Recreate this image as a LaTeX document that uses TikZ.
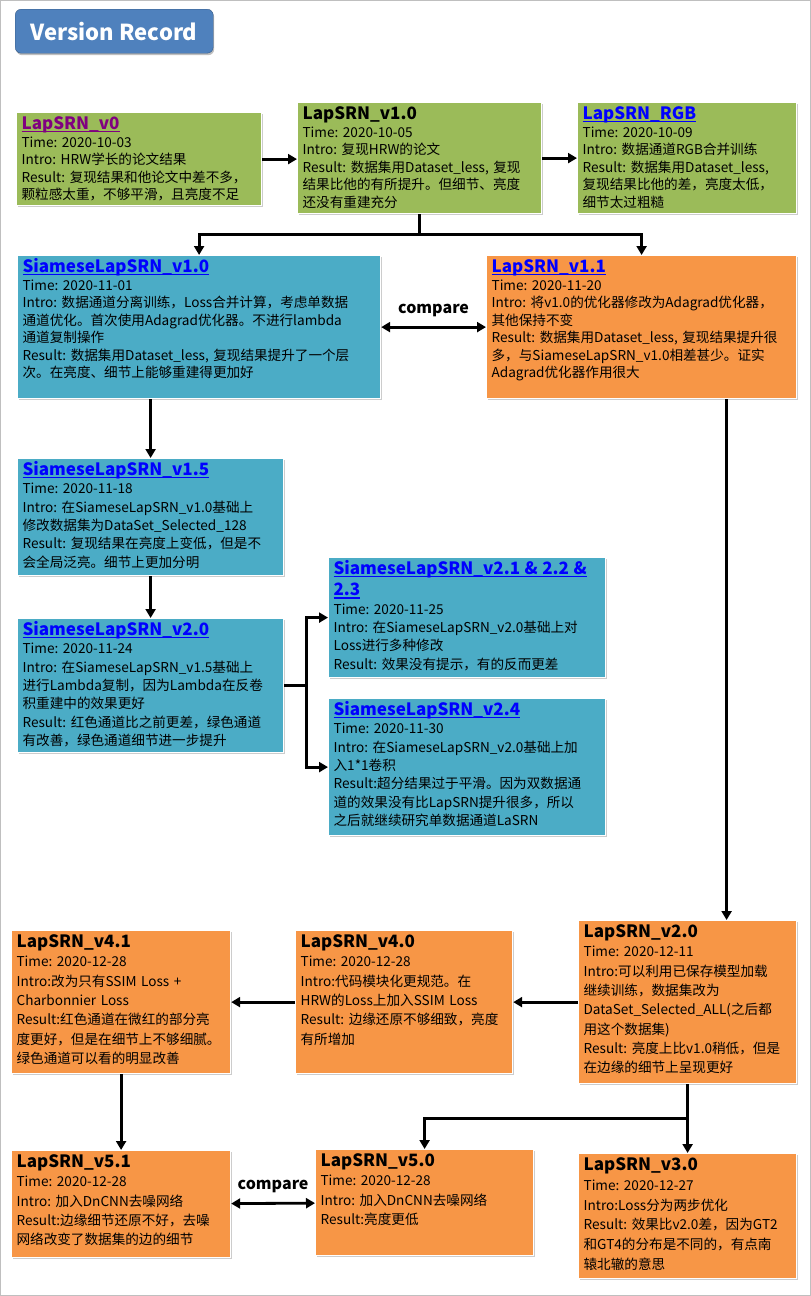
\documentclass[tikz,border=0pt]{standalone}
\usepackage{fontspec}
\setmainfont{Noto Sans CJK SC}
\usetikzlibrary{positioning,arrows.meta,shadows}
\definecolor{leaf}{HTML}{9BBB59}
\definecolor{sea}{HTML}{4BACC6}
\definecolor{tang}{HTML}{F79646}
\definecolor{banner}{HTML}{4F81BD}
\definecolor{link}{HTML}{0000FF}
\definecolor{visited}{HTML}{800080}
\frenchspacing
\newcommand{\hd}[1]{{\fontsize{17}{17}\selectfont\bfseries #1}}
\newcommand{\lnk}[2][link]{\leavevmode\textcolor{#1}{\setbox0\hbox{\hd{#2}}%
  \rlap{\rule[-2.7pt]{\wd0}{1.6pt}}\box0}}

\begin{document}
\begin{tikzpicture}[
  x=1pt, y=-1pt,
  font=\fontsize{13.6}{17.5}\selectfont,
  card/.style args={#1x#2}{draw=white, line width=1.2pt, anchor=north west,
     align=left, inner xsep=5pt, inner ysep=4pt,
     drop shadow={shadow xshift=1pt, shadow yshift=-1.5pt, fill=black, opacity=0.2},
     /utils/exec={\pgfmathsetmacro\cardw{#1-10}\pgfmathsetmacro\cardd{#2-21}},
     text width=\cardw pt, text height=13pt, text depth=\cardd pt},
  gbox/.style={card=#1, fill=leaf},
  tbox/.style={card=#1, fill=sea},
  obox/.style={card=#1, fill=tang},
  pitch/.style={font=\fontsize{13.6}{#1}\selectfont},
  badge/.style={anchor=north west, draw=banner!70!black, fill=banner,
     rounded corners=6pt, minimum width=198pt, minimum height=44pt, text=white,
     font=\fontsize{22}{22}\selectfont\bfseries,
     drop shadow={shadow xshift=1pt, shadow yshift=-2pt, fill=black, opacity=0.25}},
  arr/.style={-{Triangle[length=9pt, width=10pt]}, line width=2.8pt},
  twoway/.style={{Triangle[length=9pt, width=10pt]}-{Triangle[length=9pt, width=10pt]},
     line width=2.8pt},
  lbl/.style={font=\fontsize{16}{16}\selectfont\bfseries, midway, above=6pt}
]
\useasboundingbox (0,0) rectangle (811,1296);
\draw[black!25, line width=1pt] (0.5,0.5) rectangle (810.5,1295.5);
\node[badge] (title) at (15,9) {Version Record};
% ---- first row ----
\node[gbox=245x93, pitch=17.5] (v0) at (16,112) {\lnk[visited]{LapSRN\_v0}\\
  Time: 2020-10-03\\ Intro: HRW学长的论文结果\\ Result: 复现结果和他论文中差不多，\\
  颗粒感太重，不够平滑，且亮度不足};
\node[gbox=244x111, pitch=17.5] (v10) at (297,102) {\hd{LapSRN\_v1.0}\\
  Time: 2020-10-05\\ Intro: 复现HRW的论文\\ Result: 数据集用Dataset\_less, 复现\\
  结果比他的有所提升。但细节、亮度\\ 还没有重建充分};
\node[gbox=219x111, pitch=17.5] (rgb) at (577,102) {\lnk{LapSRN\_RGB}\\
  Time: 2020-10-09\\ Intro: 数据通道RGB合并训练\\ Result: 数据集用Dataset\_less,\\
  复现结果比他的差，亮度太低，\\ 细节太过粗糙};
% ---- siamese branch ----
\node[tbox=363x143, pitch=17.5] (sv10) at (17,255) {\lnk{SiameseLapSRN\_v1.0}\\
  Time: 2020-11-01\\ Intro: 数据通道分离训练，Loss合并计算，考虑单数据\\
  通道优化。首次使用Adagrad优化器。不进行lambda\\ 通道复制操作\\
  Result: 数据集用Dataset\_less, 复现结果提升了一个层\\ 次。在亮度、细节上能够重建得更加好};
\node[obox=310x143, pitch=17.5] (v11) at (486,255) {\lnk{LapSRN\_v1.1}\\
  Time: 2020-11-20\\ Intro: 将v1.0的优化器修改为Adagrad优化器，\\ 其他保持不变\\
  Result: 数据集用Dataset\_less, 复现结果提升很\\ 多，与SiameseLapSRN\_v1.0相差甚少。证实\\
  Adagrad优化器作用很大};
\node[tbox=266x117, pitch=18.3] (sv15) at (17,458) {\lnk{SiameseLapSRN\_v1.5}\\
  Time: 2020-11-18\\ Intro: 在SiameseLapSRN\_v1.0基础上\\ 修改数据集为DataSet\_Selected\_128\\
  Result: 复现结果在亮度上变低，但是不\\ 会全局泛亮。细节上更加分明};
\node[tbox=266x134, pitch=18.3] (sv20) at (17,618) {\lnk{SiameseLapSRN\_v2.0}\\
  Time: 2020-11-24\\ Intro: 在SiameseLapSRN\_v1.5基础上\\ 进行Lambda复制，因为Lambda在反卷\\
  积重建中的效果更好\\ Result: 红色通道比之前更差，绿色通道\\ 有改善，绿色通道细节进一步提升};
\node[tbox=277x120, pitch=18.3] (sv21) at (328,557) {\lnk{SiameseLapSRN\_v2.1 \& 2.2 \&}\\[3pt]
  \lnk{2.3}\\ Time: 2020-11-25\\ Intro: 在SiameseLapSRN\_v2.0基础上对\\ Loss进行多种修改\\
  Result: 效果没有提示，有的反而更差};
\node[tbox=277x137, pitch=18.3] (sv24) at (328,698) {\lnk{SiameseLapSRN\_v2.4}\\
  Time: 2020-11-30\\ Intro: 在SiameseLapSRN\_v2.0基础上加\\ 入1*1卷积\\
  Result:超分结果过于平滑。因为双数据通\\ 道的效果没有比LapSRN提升很多，所以\\
  之后就继续研究单数据通道LaSRN};
% ---- lapsrn line ----
\node[obox=218x163, pitch=19.3] (v20) at (578,920) {\hd{LapSRN\_v2.0}\\
  Time: 2020-12-11\\ Intro:可以利用已保存模型加载\\ 继续训练，数据集改为\\
  DataSet\_Selected\_ALL(之后都\\ 用这个数据集)\\ Result: 亮度上比v1.0稍低，但是\\
  在边缘的细节上呈现更好};
\node[obox=217x143, pitch=19.3] (v40) at (295,930) {\hd{LapSRN\_v4.0}\\
  Time: 2020-12-28\\ Intro:代码模块化更规范。在\\ HRW的Loss上加入SSIM Loss\\
  Result: 边缘还原不够细致，亮度\\ 有所增加};
\node[obox=219x143, pitch=19.3] (v41) at (11,930) {\hd{LapSRN\_v4.1}\\
  Time: 2020-12-28\\ Intro:改为只有SSIM Loss +\\ Charbonnier Loss\\
  Result:红色通道在微红的部分亮\\ 度更好，但是在细节上不够细腻。\\ 绿色通道可以看的明显改善};
\node[obox=219x107, pitch=19.3] (v51) at (11,1150) {\hd{LapSRN\_v5.1}\\
  Time: 2020-12-28\\ Intro: 加入DnCNN去噪网络\\ Result:边缘细节还原不好，去噪\\
  网络改变了数据集的边的细节};
\node[obox=218x106, pitch=19.3] (v50) at (315,1149) {\hd{LapSRN\_v5.0}\\
  Time: 2020-12-28\\ Intro: 加入DnCNN去噪网络\\ Result:亮度更低};
\node[obox=218x125, pitch=19.7] (v30) at (578,1153) {\hd{LapSRN\_v3.0}\\
  Time: 2020-12-27\\ Intro:Loss分为两步优化\\ Result: 效果比v2.0差，因为GT2\\
  和GT4的分布是不同的，有点南\\ 辕北辙的意思};
% ---- connectors ----
\coordinate[below=20pt of v10] (fork1);
\coordinate[right=22pt of sv20] (fork2);
\coordinate[below=34pt of v20] (fork3);
\coordinate[right=39pt of v20.north] (drop);
\draw[arr] (v0.east) -- (v0.east -| v10.west);
\draw[arr] (v10) -- (rgb);
\draw[arr] (v10.south) -- (fork1) -| (sv10.north);
\draw[arr] (fork1) -| (v11.north);
\draw[twoway] (sv10) -- node[lbl] (cmp1) {compare} (v11);
\draw[arr] (sv15.north |- sv10.south) -- (sv15);
\draw[arr] (sv15) -- (sv20);
\draw[arr] (sv20) -- (fork2) |- (sv21);
\draw[arr] (fork2) |- (sv24);
\draw[arr] (v11.south -| drop) -- (drop);
\draw[arr] (v20) -- (v40);
\draw[arr] (v40) -- (v41);
\draw[arr] (v41) -- (v51);
\draw[twoway] (v51) -- node[lbl] (cmp2) {compare} (v50);
\draw[arr] (v20) -- (fork3) -| (v50);
\draw[arr] (fork3) -- (v30);
\end{tikzpicture}
\end{document}
